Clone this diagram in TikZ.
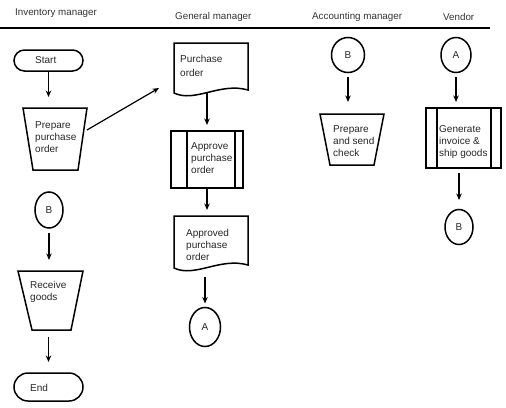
\documentclass[tikz,border=0pt]{standalone}
\usepackage{fontspec}
\setmainfont{Liberation Sans}
\usetikzlibrary{arrows.meta,shapes.geometric}
\begin{document}
\begin{tikzpicture}[x=1pt,y=-1pt,
  box/.style={inner sep=0pt, outer sep=0pt},
  edge/.style={line width=1.5pt, line join=miter},
  arr/.style={line width=1.2pt, -{Stealth[length=6.5pt,width=5.5pt]}},
  txt/.style={font=\fontsize{10}{12}\selectfont, inner sep=0pt, align=left, anchor=west, text=black!85},
  hdr/.style={font=\fontsize{9.8}{12}\selectfont, inner sep=0pt, anchor=west, text=black!80},
  term/.style={draw, line width=1.5pt, inner sep=0pt, outer sep=0pt, minimum width=69pt},
  circ/.style={draw, ellipse, line width=1.5pt, inner sep=0pt, outer sep=0pt, font=\fontsize{10}{12}\selectfont, text=black!85}
]
\useasboundingbox (0,0) rectangle (506,407);

% headers
\node[hdr] (h1) at (15,13) {Inventory manager};
\node[hdr] (h2) at (175,17) {General manager};
\node[hdr] (h3) at (312,17) {Accounting manager};
\node[hdr] (h4) at (443,17) {Vendor};
\coordinate (lineL) at (0,28);
\coordinate (lineR) at (490,28);
\draw[line width=1.5pt] (lineL) -- (lineR);

% Inventory manager lane
\node[term, minimum height=21pt, rounded corners=10.5pt] (start) at (48.5,60.5) {};
\node[txt] (startT) at (35,60.5) {Start};

\node[box, minimum width=64pt, minimum height=62pt] (prep) at (55,139) {};
\draw[edge] (prep.north west) -- (prep.north east) -- ([xshift=-9pt]prep.south east) -- ([xshift=10pt]prep.south west) -- cycle;
\node[txt] (prepT) at (35,137) {Prepare\\purchase\\order};

\node[circ, minimum width=28pt, minimum height=36pt] (bL) at (49,210) {B};

\node[box, minimum width=65pt, minimum height=59pt] (recv) at (50.5,300.5) {};
\draw[edge] (recv.north west) -- (recv.north east) -- ([xshift=-12pt]recv.south east) -- ([xshift=14pt]recv.south west) -- cycle;
\node[txt] (recvT) at (30,292) {Receive\\goods};

\node[term, minimum height=28pt, rounded corners=14pt] (end) at (48.5,387) {};
\node[txt] (endT) at (30,388) {End};

% General manager lane
\node[box, minimum width=74pt, minimum height=50pt] (po) at (211,68) {};
\draw[edge] (po.south west) -- (po.north west) -- (po.north east) -- ([yshift=3pt]po.south east)
  .. controls ([xshift=-28pt,yshift=11pt]po.south east) and ([xshift=21pt,yshift=-10pt]po.south west) .. (po.south west) -- cycle;
\node[txt] (poT) at (180,66) {Purchase\\[2pt]order};

\node[draw, line width=1.5pt, box, minimum width=72pt, minimum height=57pt] (approve) at (207,159.5) {};
\draw[edge] ([xshift=16pt]approve.north west) -- ([xshift=16pt]approve.south west);
\draw[edge] ([xshift=-8pt]approve.north east) -- ([xshift=-8pt]approve.south east);
\node[txt] (approveT) at (191,158) {Approve\\purchase\\order};

\node[box, minimum width=74pt, minimum height=52pt] (approved) at (211,242) {};
\draw[edge] (approved.south west) -- (approved.north west) -- (approved.north east) -- ([yshift=3pt]approved.south east)
  .. controls ([xshift=-28pt,yshift=11pt]approved.south east) and ([xshift=21pt,yshift=-10pt]approved.south west) .. (approved.south west) -- cycle;
\node[txt] (approvedT) at (186,245) {Approved\\purchase\\order};

\node[circ, minimum width=31pt, minimum height=39pt] (aG) at (205,327) {A};

% Accounting manager lane
\node[circ, minimum width=33pt, minimum height=35pt] (bA) at (348,55) {B};
\node[box, minimum width=64pt, minimum height=51pt] (check) at (352,139.5) {};
\draw[edge] (check.north west) -- (check.north east) -- ([xshift=-10pt]check.south east) -- ([xshift=10pt]check.south west) -- cycle;
\node[txt] (checkT) at (333,141) {Prepare\\and send\\check};

% Vendor lane
\node[circ, minimum width=30pt, minimum height=35pt] (aV) at (456,55) {A};
\node[draw, line width=1.5pt, box, minimum width=75pt, minimum height=60pt] (gen) at (463.5,138) {};
\draw[edge] ([xshift=11pt]gen.north west) -- ([xshift=11pt]gen.south west);
\draw[edge] ([xshift=-10pt]gen.north east) -- ([xshift=-10pt]gen.south east);
\node[txt] (genT) at (439,142) {Generate\\invoice \&\\ship goods};
\node[circ, minimum width=28pt, minimum height=35pt] (bV) at (459,227) {B};

% connectors
\coordinate (poIn) at (159,88);
\draw[arr, shorten >=11pt] (start.south) -- (start.south |- prep.north);
\draw[arr] ([yshift=9pt]prep.east) -- (poIn);
\draw[arr, shorten <=5pt, shorten >=11pt] (bL.south) -- (bL.south |- recv.north);
\draw[arr, shorten <=7pt, shorten >=11pt] (end.north |- recv.south) -- (end.north);
\draw[arr, shorten >=6pt] (approve.north |- po.south) -- (approve.north);
\draw[arr, shorten >=6pt] (approve.south) -- (approve.south |- approved.north);
\draw[arr, shorten <=9pt, shorten >=4pt] (aG.north |- approved.south) -- (aG.north);
\draw[arr, shorten <=4.5pt, shorten >=12pt] (bA.south) -- (bA.south |- check.north);
\draw[arr, shorten <=4.5pt, shorten >=6pt] (aV.south) -- (aV.south |- gen.north);
\draw[arr, shorten <=5pt, shorten >=9.5pt] (bV.north |- gen.south) -- (bV.north);
\end{tikzpicture}
\end{document}
